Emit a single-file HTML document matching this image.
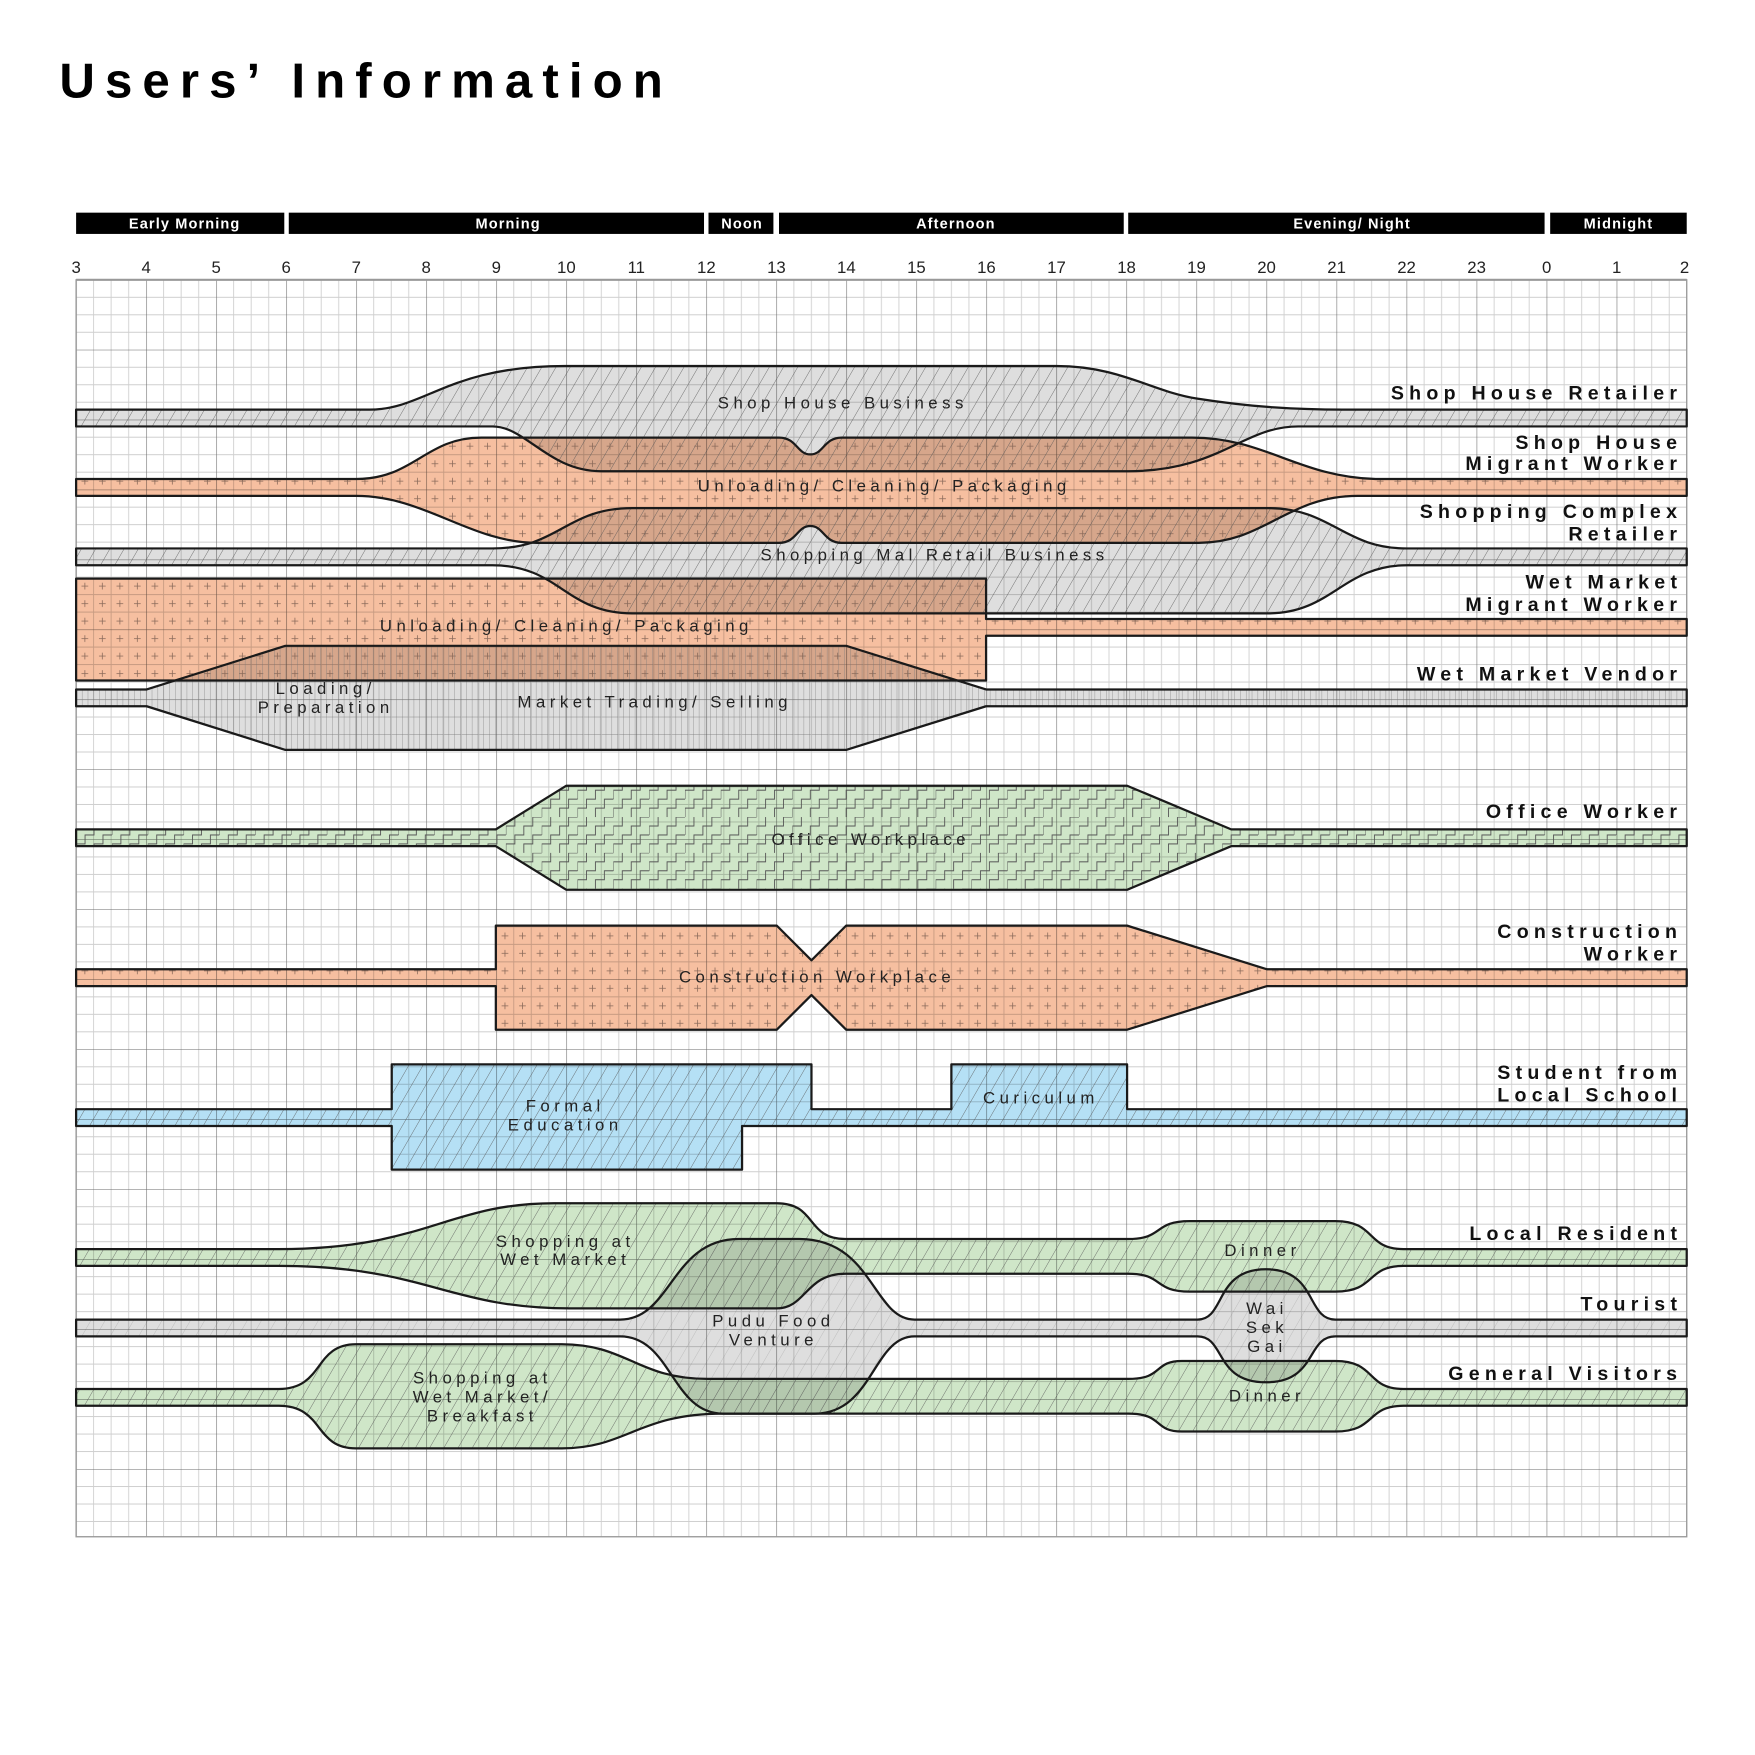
<!DOCTYPE html>
<html><head><meta charset="utf-8">
<style>
html,body{margin:0;padding:0;background:#fff;}
svg{display:block;}
.lbl{font-family:"Liberation Sans",sans-serif;font-size:15px;letter-spacing:4px;fill:#222;text-anchor:middle;}
.rl{font-family:"Liberation Sans",sans-serif;font-size:17.5px;font-weight:bold;letter-spacing:4.7px;fill:#111;text-anchor:end;}
.hr{font-family:"Liberation Sans",sans-serif;font-size:15px;fill:#222;text-anchor:middle;}
.hd{font-family:"Liberation Sans",sans-serif;font-size:13px;font-weight:bold;letter-spacing:1px;fill:#fff;text-anchor:middle;}
.sh{mix-blend-mode:multiply;}
</style></head>
<body>
<svg width="1755" height="1755" viewBox="0 0 1568 1568" xmlns="http://www.w3.org/2000/svg">
<defs>
  <pattern id="grid" x="68" y="250" width="62.565" height="62.5" patternUnits="userSpaceOnUse">
    <path d="M15.64 0V62.5M31.28 0V62.5M46.92 0V62.5M0 15.625H62.565M0 31.25H62.565M0 46.875H62.565" stroke="#cfcfcf" stroke-width="0.8" fill="none"/>
    <path d="M0 0V62.5M0 0H62.565" stroke="#6a6a6a" stroke-width="1" fill="none"/>
  </pattern>
  <pattern id="hatch" width="11" height="11" patternUnits="userSpaceOnUse" patternTransform="rotate(30)">
    <path d="M0 0V11" stroke="#555" stroke-width="0.7"/>
  </pattern>
  <pattern id="plus" x="68" y="250" width="15.64" height="15.625" patternUnits="userSpaceOnUse">
    <path d="M7.8 5V11M4.8 8H10.8" stroke="#8a6a5a" stroke-width="0.7"/>
  </pattern>
  <pattern id="vert" x="68" width="5.2" height="10" patternUnits="userSpaceOnUse">
    <path d="M0 0V10" stroke="#777" stroke-width="0.6"/>
  </pattern>
  <pattern id="steps" x="68" y="250" width="32" height="32" patternUnits="userSpaceOnUse">
    <path d="M0 32V24H8V16H16V8H24V0H32M16 32V24H24V16H32M0 16V8H8V0" stroke="#555" stroke-width="0.8" fill="none"/>
  </pattern>

  <path id="p1" d="M68,366 H330 C380,366 400,327 505,327 H944 C1000,327 1030,350 1069,356 C1120,364 1160,366 1200,366 H1507 V381 H1160 C1110,381 1090,421 1008,421 H537 C490,421 470,381 440,381 H68 Z"/>
  <path id="p2" d="M68,428 H318 C370,428 380,391 430,391 H696 C712,391 712,406 724,406 C736,406 736,391 752,391 H1065 C1130,391 1160,426 1229,428 H1507 V443 H1213 C1150,443 1130,485 1071,485 H752 C736,485 736,470 724,470 C712,470 712,485 696,485 H480 C420,485 380,443 318,443 H68 Z"/>
  <path id="p3" d="M68,490 H440 C500,490 505,454 565,454 H1133 C1190,454 1200,490 1257,490 H1507 V505 H1257 C1200,505 1190,548 1133,548 H565 C505,548 500,505 440,505 H68 Z"/>
  <path id="p4" d="M68,517 H881 V553 H1507 V568 H881 V608 H68 Z"/>
  <path id="p5" d="M68,616 H131 L255,577 H756 L881,616 H1507 V631 H881 L756,670 H255 L131,631 H68 Z"/>
  <path id="p6" d="M68,741 H443 L506,702 H1007 L1100,741 H1507 V756 H1100 L1007,795 H506 L443,756 H68 Z"/>
  <path id="p7" d="M68,866 H443 V827 H694 L725,858 L756,827 H1007 L1132,866 H1507 V881 H1132 L1007,920 H756 L725,889 L694,920 H443 V881 H68 Z"/>
  <path id="p8" d="M68,991 H350 V951 H725 V991 H850 V951 H1007 V991 H1507 V1006 H663 V1045 H350 V1006 H68 Z"/>
  <path id="p9" d="M68,1116 H249 C380,1116 400,1075 495,1075 H694 C730,1075 720,1107 755,1107 H1008 C1040,1107 1030,1091 1063,1091 H1193 C1230,1091 1220,1116 1254,1116 H1507 V1131 H1254 C1220,1131 1230,1154 1193,1154 H1063 C1030,1154 1040,1138 1008,1138 H755 C720,1138 720,1169 694,1169 H509 C400,1169 380,1131 249,1131 H68 Z"/>
  <path id="p10" d="M68,1179 H554 C600,1179 600,1107 660,1107 H714 C780,1107 780,1179 817,1179 H1070 C1095,1179 1085,1134 1131,1134 C1177,1134 1167,1179 1193,1179 H1507 V1194 H1193 C1167,1194 1177,1235 1131,1235 C1085,1235 1095,1194 1070,1194 H817 C780,1194 780,1263 728,1263 H646 C600,1263 600,1194 554,1194 H68 Z"/>
  <path id="p11" d="M68,1241 H249 C290,1241 280,1201 318,1201 H502 C560,1201 570,1232 632,1232 H1008 C1040,1232 1030,1216 1056,1216 H1193 C1230,1216 1220,1241 1254,1241 H1507 V1256 H1254 C1220,1256 1230,1279 1193,1279 H1056 C1030,1279 1040,1263 1008,1263 H646 C570,1263 560,1294 502,1294 H318 C280,1294 290,1256 249,1256 H68 Z"/>
</defs>

<rect width="1568" height="1568" fill="#fff"/>
<text x="53" y="87" font-family="Liberation Sans, sans-serif" font-size="44" font-weight="bold" letter-spacing="9" fill="#000">Users’ Information</text>

<g>
  <rect x="68" y="190" width="186" height="19" fill="#000"/><text class="hd" x="165" y="204">Early Morning</text>
  <rect x="258" y="190" width="371" height="19" fill="#000"/><text class="hd" x="454" y="204">Morning</text>
  <rect x="633" y="190" width="58" height="19" fill="#000"/><text class="hd" x="663" y="204">Noon</text>
  <rect x="696" y="190" width="308" height="19" fill="#000"/><text class="hd" x="854" y="204">Afternoon</text>
  <rect x="1008" y="190" width="372" height="19" fill="#000"/><text class="hd" x="1208" y="204">Evening/ Night</text>
  <rect x="1385" y="190" width="122" height="19" fill="#000"/><text class="hd" x="1446" y="204">Midnight</text>
</g>

<g>
  <text class="hr" x="68" y="244">3</text><text class="hr" x="130.6" y="244">4</text><text class="hr" x="193.1" y="244">5</text><text class="hr" x="255.7" y="244">6</text><text class="hr" x="318.3" y="244">7</text><text class="hr" x="380.8" y="244">8</text><text class="hr" x="443.4" y="244">9</text><text class="hr" x="506" y="244">10</text><text class="hr" x="568.5" y="244">11</text><text class="hr" x="631.1" y="244">12</text><text class="hr" x="693.7" y="244">13</text><text class="hr" x="756.2" y="244">14</text><text class="hr" x="818.8" y="244">15</text><text class="hr" x="881.3" y="244">16</text><text class="hr" x="943.9" y="244">17</text><text class="hr" x="1006.5" y="244">18</text><text class="hr" x="1069" y="244">19</text><text class="hr" x="1131.6" y="244">20</text><text class="hr" x="1194.2" y="244">21</text><text class="hr" x="1256.7" y="244">22</text><text class="hr" x="1319.3" y="244">23</text><text class="hr" x="1381.9" y="244">0</text><text class="hr" x="1444.4" y="244">1</text><text class="hr" x="1505" y="244">2</text>
</g>

<rect x="68" y="250" width="1439" height="1123" fill="url(#grid)"/>
<rect x="68" y="250" width="1439" height="1123" fill="none" stroke="#999" stroke-width="1.2"/>
<line x1="68" y1="250" x2="1507" y2="250" stroke="#999" stroke-width="2"/>

<g class="sh"><use href="#p1" fill="#dedede"/></g>
<g class="sh"><use href="#p2" fill="#f6bfa0"/></g>
<g class="sh"><use href="#p3" fill="#dedede"/></g>
<g class="sh"><use href="#p4" fill="#f6bfa0"/></g>
<g class="sh"><use href="#p5" fill="#dedede"/></g>
<g class="sh"><use href="#p6" fill="#cfe6c8"/></g>
<g class="sh"><use href="#p7" fill="#f6bfa0"/></g>
<g class="sh"><use href="#p8" fill="#b5e0f5"/></g>
<g class="sh"><use href="#p9" fill="#cfe6c8"/></g>
<g class="sh"><use href="#p10" fill="#dedede"/></g>
<g class="sh"><use href="#p11" fill="#cfe6c8"/></g>

<use href="#p1" fill="url(#hatch)"/>
<use href="#p2" fill="url(#plus)"/>
<use href="#p3" fill="url(#hatch)"/>
<use href="#p4" fill="url(#plus)"/>
<use href="#p5" fill="url(#vert)"/>
<use href="#p6" fill="url(#steps)"/>
<use href="#p7" fill="url(#plus)"/>
<use href="#p8" fill="url(#hatch)"/>
<use href="#p9" fill="url(#hatch)"/>
<use href="#p10" fill="url(#hatch)" opacity="0.3"/>
<use href="#p11" fill="url(#hatch)"/>

<g fill="none" stroke="#1a1a1a" stroke-width="2" stroke-linejoin="round">
  <use href="#p1"/><use href="#p2"/><use href="#p3"/><use href="#p4"/><use href="#p5"/><use href="#p6"/><use href="#p7"/><use href="#p8"/><use href="#p9"/><use href="#p10"/><use href="#p11"/>
</g>

<text class="lbl" x="753" y="365">Shop House Business</text>
<text class="lbl" x="790" y="439">Unloading/ Cleaning/ Packaging</text>
<text class="lbl" x="835" y="501">Shopping Mal  Retail Business</text>
<text class="lbl" x="506" y="564">Unloading/ Cleaning/ Packaging</text>
<text class="lbl" x="291" y="620">Loading/</text>
<text class="lbl" x="291" y="637">Preparation</text>
<text class="lbl" x="585" y="632">Market Trading/ Selling</text>
<text class="lbl" x="778" y="755">Office Workplace</text>
<text class="lbl" x="730" y="878">Construction Workplace</text>
<text class="lbl" x="505" y="993">Formal</text>
<text class="lbl" x="505" y="1010">Education</text>
<text class="lbl" x="930" y="986">Curiculum</text>
<text class="lbl" x="505" y="1114">Shopping at</text>
<text class="lbl" x="505" y="1130">Wet Market</text>
<text class="lbl" x="1128" y="1122">Dinner</text>
<text class="lbl" x="691" y="1185">Pudu Food</text>
<text class="lbl" x="691" y="1202">Venture</text>
<text class="lbl" x="1132" y="1174">Wai</text>
<text class="lbl" x="1132" y="1191">Sek</text>
<text class="lbl" x="1132" y="1208">Gai</text>
<text class="lbl" x="431" y="1236">Shopping at</text>
<text class="lbl" x="431" y="1253">Wet Market/</text>
<text class="lbl" x="431" y="1270">Breakfast</text>
<text class="lbl" x="1132" y="1252">Dinner</text>

<text class="rl" x="1503" y="357">Shop House Retailer</text>
<text class="rl" x="1503" y="401">Shop House</text>
<text class="rl" x="1503" y="420">Migrant Worker</text>
<text class="rl" x="1503" y="463">Shopping Complex</text>
<text class="rl" x="1503" y="483">Retailer</text>
<text class="rl" x="1503" y="526">Wet Market</text>
<text class="rl" x="1503" y="546">Migrant Worker</text>
<text class="rl" x="1503" y="608">Wet Market Vendor</text>
<text class="rl" x="1503" y="731">Office Worker</text>
<text class="rl" x="1503" y="838">Construction</text>
<text class="rl" x="1503" y="858">Worker</text>
<text class="rl" x="1503" y="964">Student from</text>
<text class="rl" x="1503" y="984">Local School</text>
<text class="rl" x="1503" y="1108">Local Resident</text>
<text class="rl" x="1503" y="1171">Tourist</text>
<text class="rl" x="1503" y="1233">General Visitors</text>
</svg>
</body></html>
